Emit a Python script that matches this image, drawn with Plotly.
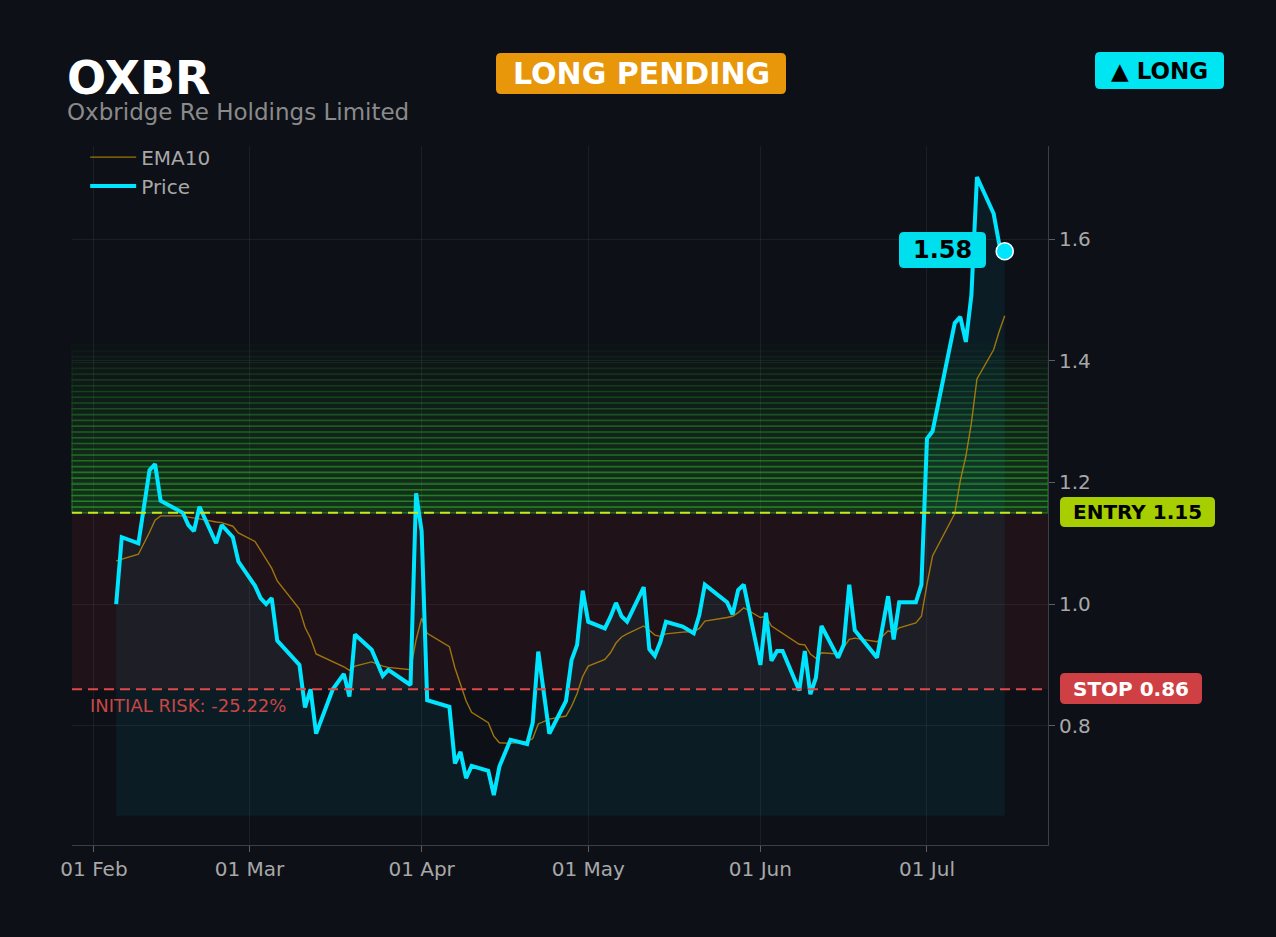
import plotly.graph_objects as go

# Daily closes and the EMA10 drawn with them
dates = [
    "2026-02-05", "2026-02-06", "2026-02-09", "2026-02-11", "2026-02-12", "2026-02-13",
    "2026-02-17", "2026-02-18", "2026-02-19", "2026-02-20", "2026-02-23", "2026-02-24",
    "2026-02-26", "2026-02-27",
    "2026-03-02", "2026-03-03", "2026-03-04", "2026-03-05", "2026-03-06", "2026-03-10",
    "2026-03-11", "2026-03-12", "2026-03-13", "2026-03-16", "2026-03-18", "2026-03-19",
    "2026-03-20", "2026-03-23", "2026-03-25", "2026-03-26", "2026-03-30", "2026-03-31",
    "2026-04-01", "2026-04-02", "2026-04-06", "2026-04-07", "2026-04-08", "2026-04-09",
    "2026-04-10", "2026-04-13", "2026-04-14", "2026-04-15", "2026-04-17", "2026-04-20",
    "2026-04-21", "2026-04-22", "2026-04-24", "2026-04-27", "2026-04-28", "2026-04-29",
    "2026-04-30",
    "2026-05-01", "2026-05-04", "2026-05-05", "2026-05-06", "2026-05-07", "2026-05-08",
    "2026-05-11", "2026-05-12", "2026-05-13", "2026-05-14", "2026-05-15", "2026-05-18",
    "2026-05-20", "2026-05-21", "2026-05-22", "2026-05-26", "2026-05-27", "2026-05-28",
    "2026-05-29",
    "2026-06-01", "2026-06-02", "2026-06-03", "2026-06-04", "2026-06-05", "2026-06-08",
    "2026-06-09", "2026-06-10", "2026-06-11", "2026-06-12", "2026-06-15", "2026-06-16",
    "2026-06-17", "2026-06-18", "2026-06-22", "2026-06-23", "2026-06-24", "2026-06-25",
    "2026-06-26", "2026-06-29", "2026-06-30",
    "2026-07-01", "2026-07-02", "2026-07-06", "2026-07-07", "2026-07-08", "2026-07-09",
    "2026-07-10", "2026-07-13", "2026-07-14", "2026-07-15",
]

price = [
    1.00, 1.11, 1.10, 1.22, 1.23, 1.17, 1.15, 1.13, 1.12, 1.16, 1.10, 1.13, 1.11, 1.07,
    1.03, 1.01, 1.00, 1.01, 0.94, 0.90, 0.83, 0.86, 0.787, 0.86, 0.885, 0.848, 0.95,
    0.925, 0.882, 0.892, 0.867, 1.182,
    1.12, 0.842, 0.831, 0.738, 0.757, 0.714, 0.734, 0.726, 0.686, 0.733, 0.777, 0.770,
    0.805, 0.922, 0.787, 0.841, 0.908, 0.933, 1.022,
    0.971, 0.960, 0.979, 1.002, 0.980, 0.971, 1.028, 0.926, 0.915, 0.938, 0.971, 0.963,
    0.952, 0.982, 1.032, 1.003, 0.983, 1.023, 1.032,
    0.90, 0.986, 0.907, 0.923, 0.923, 0.858, 0.923, 0.852, 0.879, 0.964, 0.912, 0.933,
    1.032, 0.957, 0.912, 0.964, 1.013, 0.942, 1.003, 1.003, 1.032,
    1.272, 1.284, 1.462, 1.472, 1.431, 1.508, 1.702, 1.642, 1.592, 1.58,
]

ema10 = [
    1.071, 1.074, 1.082, 1.118, 1.138, 1.145, 1.145, 1.143, 1.141, 1.140, 1.135, 1.134,
    1.128, 1.117,
    1.103, 1.088, 1.072, 1.059, 1.038, 0.992, 0.962, 0.944, 0.918, 0.906, 0.897, 0.891,
    0.898, 0.905, 0.898, 0.896, 0.892, 0.941,
    0.977, 0.952, 0.930, 0.895, 0.867, 0.841, 0.822, 0.805, 0.783, 0.772, 0.771, 0.774,
    0.779, 0.803, 0.811, 0.816, 0.832, 0.853, 0.881,
    0.898, 0.909, 0.920, 0.936, 0.946, 0.951, 0.964, 0.957, 0.949, 0.947, 0.951, 0.954,
    0.955, 0.960, 0.972, 0.978, 0.980, 0.986, 0.994,
    0.978, 0.980, 0.964, 0.958, 0.953, 0.934, 0.933, 0.918, 0.911, 0.920, 0.918, 0.929,
    0.942, 0.944, 0.938, 0.947, 0.956, 0.953, 0.961, 0.969, 0.980,
    1.033, 1.079, 1.149, 1.203, 1.243, 1.298, 1.370, 1.418, 1.448, 1.474,
]

ticker = "OXBR"
company = "Oxbridge Re Holdings Limited"
entry = 1.15
stop = 0.86
target_top = 1.435
fill_floor = 0.652
risk_pct = -25.22

month_ticks = ["2026-02-01", "2026-03-01", "2026-04-01", "2026-05-01", "2026-06-01", "2026-07-01"]
month_labels = ["01 Feb", "01 Mar", "01 Apr", "01 May", "01 Jun", "01 Jul"]
y_ticks = [0.8, 1.0, 1.2, 1.4, 1.6]

BG = "#0d1017"
CYAN = "#00e5ff"
FONT = "DejaVu Sans"

fig = go.Figure()

# fill under the price down to the floor
fig.add_trace(go.Scatter(x=dates, y=[fill_floor] * len(dates), mode="lines",
                         line=dict(width=0), showlegend=False, hoverinfo="skip"))
fig.add_trace(go.Scatter(x=dates, y=price, mode="lines", line=dict(width=0),
                         fill="tonexty", fillcolor="rgba(0,229,255,0.06)",
                         showlegend=False, hoverinfo="skip"))

fig.add_trace(go.Scatter(x=dates, y=ema10, mode="lines", name="EMA10",
                         line=dict(color="rgba(184,134,11,0.85)", width=1.4)))
fig.add_trace(go.Scatter(x=dates, y=price, mode="lines", name="Price",
                         line=dict(color=CYAN, width=4)))
fig.add_trace(go.Scatter(x=[dates[-1]], y=[price[-1]], mode="markers", showlegend=False,
                         marker=dict(color=CYAN, size=17, line=dict(color="white", width=1.5))))


def rounded_box(x0, x1, y0, y1, r, color, xref="paper", yref="paper"):
    # rounded rectangle, r = (rx, ry) in paper units
    rx, ry = r
    path = (f"M {x0 + rx},{y0} L {x1 - rx},{y0} Q {x1},{y0} {x1},{y0 + ry} "
            f"L {x1},{y1 - ry} Q {x1},{y1} {x1 - rx},{y1} L {x0 + rx},{y1} "
            f"Q {x0},{y1} {x0},{y1 - ry} L {x0},{y0 + ry} Q {x0},{y0} {x0 + rx},{y0} Z")
    return dict(type="path", path=path, xref=xref, yref=yref, fillcolor=color,
                line=dict(width=0), layer="above")


shapes = []
# risk zone
shapes.append(dict(type="rect", xref="paper", x0=0, x1=1, yref="y", y0=stop, y1=entry,
                   fillcolor="rgba(220,50,60,0.09)", line=dict(width=0), layer="below"))
# target gradient
n = 30
step = (target_top - entry) / n
for i in range(n):
    a = 0.28 * (1 - i / n) + 0.005
    shapes.append(dict(type="rect", xref="paper", x0=0, x1=1, yref="y",
                       y0=entry + i * step, y1=entry + (i + 1) * step,
                       fillcolor=f"rgba(34,139,34,{a:.3f})",
                       line=dict(color=f"rgba(45,160,45,{min(a * 1.7, 1):.3f})", width=1.6),
                       layer="below"))
shapes.append(dict(type="line", xref="paper", x0=0, x1=1, yref="y", y0=entry, y1=entry,
                   line=dict(color="#c8e619", width=2, dash="10px,6px")))
shapes.append(dict(type="line", xref="paper", x0=0, x1=1, yref="y", y0=stop, y1=stop,
                   line=dict(color="#e04a4a", width=2, dash="10px,6px")))

# label boxes (pixel geometry converted to paper: plot is 976 x 699, origin at 72,845)
PW, PH, PL, PB = 976.0, 699.0, 72.0, 845.0


def px_box(x0, x1, y0, y1, color):
    return rounded_box((x0 - PL) / PW, (x1 - PL) / PW, (PB - y1) / PH, (PB - y0) / PH,
                       (5 / PW, 5 / PH), color)


shapes.append(px_box(496, 786, 53, 94, "#e8960a"))
shapes.append(px_box(1095, 1224, 52, 89, "#00e5f2"))
shapes.append(px_box(1060, 1215, 497, 527, "#a6ce00"))
shapes.append(px_box(1060, 1202, 673, 704, "#cf4044"))
shapes.append(px_box(899, 986, 232, 268, "#00dfee"))

annotations = [
    dict(text=f"<b>{ticker}</b>", xref="paper", yref="paper", x=-0.0075, y=1.097,
         xanchor="left", yanchor="middle", showarrow=False,
         font=dict(family=FONT, size=46, color="white")),
    dict(text=company, xref="paper", yref="paper", x=-0.0075, y=1.049,
         xanchor="left", yanchor="middle", showarrow=False,
         font=dict(family=FONT, size=23, color="#8a8a8a")),
    dict(text="<b>LONG PENDING</b>", xref="paper", yref="paper", x=(641 - PL) / PW,
         y=(PB - 73.5) / PH, xanchor="center", yanchor="middle", showarrow=False,
         font=dict(family=FONT, size=30, color="white")),
    dict(text="<b>▲ LONG</b>", xref="paper", yref="paper", x=(1159.5 - PL) / PW,
         y=(PB - 70.5) / PH, xanchor="center", yanchor="middle", showarrow=False,
         font=dict(family=FONT, size=23, color="black")),
    dict(text=f"<b>ENTRY {entry:.2f}</b>", xref="paper", yref="paper", x=(1137.5 - PL) / PW,
         y=(PB - 512) / PH, xanchor="center", yanchor="middle", showarrow=False,
         font=dict(family=FONT, size=20, color="black")),
    dict(text=f"<b>STOP {stop:.2f}</b>", xref="paper", yref="paper", x=(1131 - PL) / PW,
         y=(PB - 688.5) / PH, xanchor="center", yanchor="middle", showarrow=False,
         font=dict(family=FONT, size=20, color="white")),
    dict(text=f"<b>{price[-1]:.2f}</b>", xref="paper", yref="paper", x=(942.5 - PL) / PW,
         y=(PB - 250) / PH, xanchor="center", yanchor="middle", showarrow=False,
         font=dict(family=FONT, size=24, color="black")),
    dict(text=f"INITIAL RISK: {risk_pct:.2f}%", xref="paper", yref="y", x=0.0164, y=0.833,
         xanchor="left", yanchor="middle", showarrow=False,
         font=dict(family=FONT, size=18, color="#c94646")),
]

fig.update_layout(
    width=1276, height=937,
    margin=dict(l=72, r=228, t=146, b=92),
    paper_bgcolor=BG, plot_bgcolor=BG,
    font=dict(family=FONT, color="#a8a8a8", size=20),
    shapes=shapes, annotations=annotations,
    hovermode=False,
    legend=dict(x=0.0135, y=1.012, xanchor="left", yanchor="top", bgcolor="rgba(0,0,0,0)",
                traceorder="normal", itemwidth=46,
                font=dict(family=FONT, size=20, color="#a8a8a8")),
    xaxis=dict(range=["2026-01-28 01:00", "2026-07-22 19:00"], tickvals=month_ticks,
               ticktext=month_labels, showgrid=True, gridcolor="rgba(255,255,255,0.06)",
               showline=True, linecolor="#3c3f46", ticks="outside", ticklen=6,
               tickcolor="#5a5d64", zeroline=False, tickfont=dict(size=20)),
    yaxis=dict(range=[0.604, 1.753], side="right", tickvals=y_ticks, tickformat=".1f",
               showgrid=True, gridcolor="rgba(255,255,255,0.06)",
               showline=True, linecolor="#3c3f46", ticks="outside", ticklen=6,
               tickcolor="#5a5d64", zeroline=False, tickfont=dict(size=20)),
)

fig.write_html("out.html", config={"displayModeBar": False},
               post_script="document.body.style.margin='0';"
                           "document.body.style.background='#0d1017';")
